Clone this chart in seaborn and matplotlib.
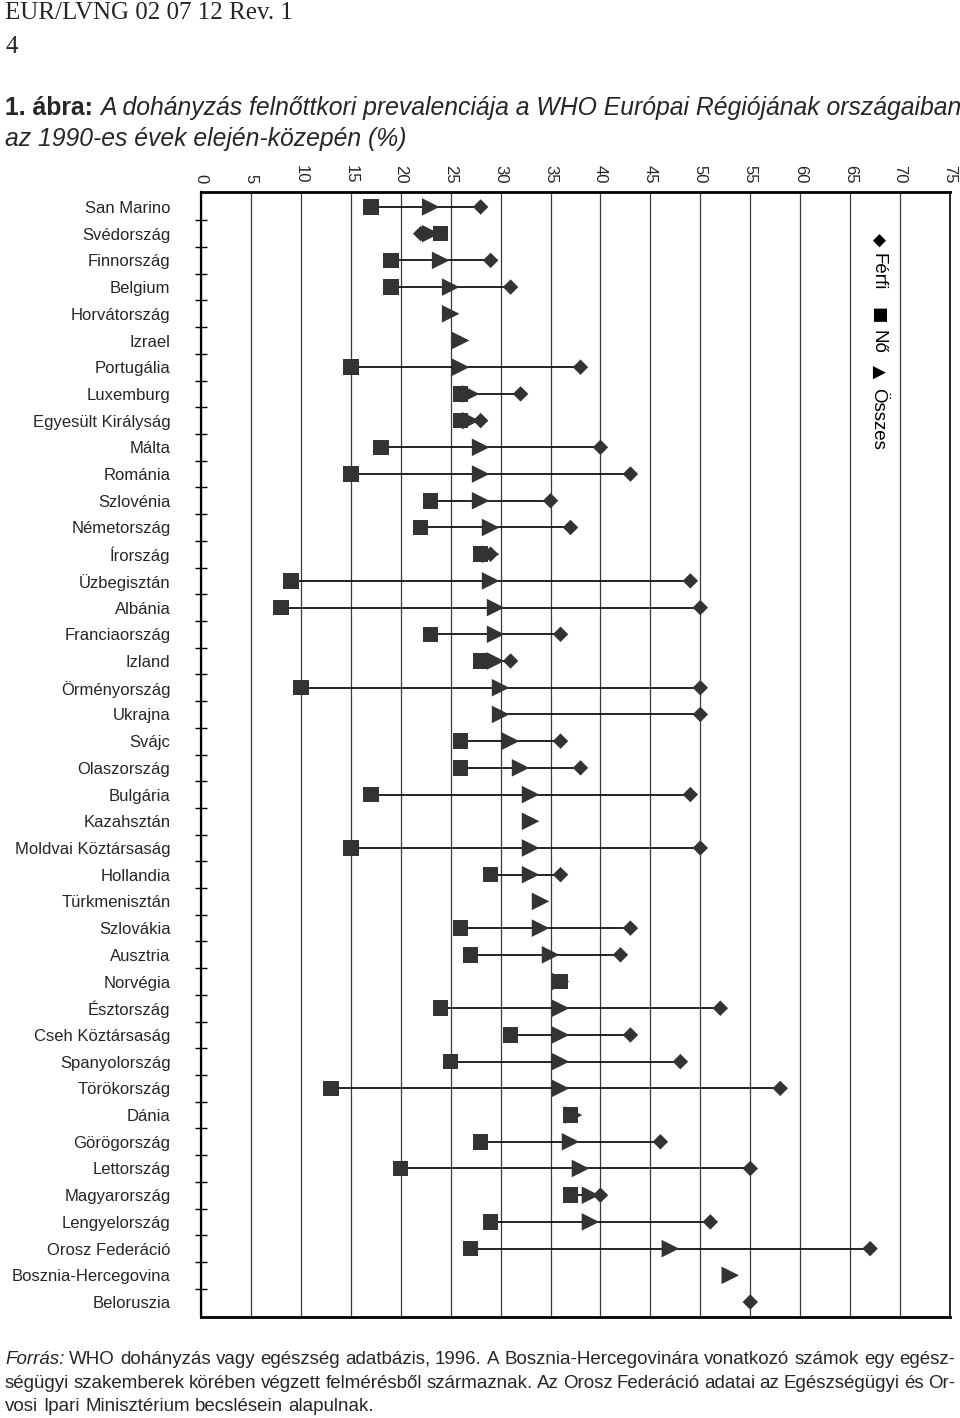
import numpy as np
import pandas as pd
import seaborn as sns
import matplotlib.pyplot as plt

############################
# 1. Data (%)
############################

orszagok = [
    "San Marino", "Svédország", "Finnország", "Belgium", "Horvátország",
    "Izrael", "Portugália", "Luxemburg", "Egyesült Királyság", "Málta",
    "Románia", "Szlovénia", "Németország", "Írország", "Üzbegisztán",
    "Albánia", "Franciaország", "Izland", "Örményország", "Ukrajna",
    "Svájc", "Olaszország", "Bulgária", "Kazahsztán", "Moldvai Köztársaság",
    "Hollandia", "Türkmenisztán", "Szlovákia", "Ausztria", "Norvégia",
    "Észtország", "Cseh Köztársaság", "Spanyolország", "Törökország", "Dánia",
    "Görögország", "Lettország", "Magyarország", "Lengyelország",
    "Orosz Federáció", "Bosznia-Hercegovina", "Beloruszia",
]

nan = np.nan
# Férfi (diamond)
ferfi = [28, 22, 29, 31, nan, nan, 38, 32, 28, 40,
         43, 35, 37, 29, 49, 50, 36, 31, 50, 50,
         36, 38, 49, nan, 50, 36, nan, 43, 42, 36,
         52, 43, 48, 58, 37, 46, 55, 40, 51, 67, nan, 55]
# Nő (square)
no = [17, 24, 19, 19, nan, nan, 15, 26, 26, 18,
      15, 23, 22, 28, 9, 8, 23, 28, 10, nan,
      26, 26, 17, nan, 15, 29, nan, 26, 27, 36,
      24, 31, 25, 13, 37, 28, 20, 37, 29, 27, nan, nan]
# Összes (triangle)
osszes = [23, 23, 24, 25, 25, 26, 26, 27, 27, 28,
          28, 28, 29, 29, 29, 29.5, 29.5, 29.5, 30, 30,
          31, 32, 33, 33, 33, 33, 34, 34, 35, 36,
          36, 36, 36, 36, 37.3, 37, 38, 39, 39, 47, 53, nan]

x_ticks = list(range(0, 76, 5))

header = "EUR/LVNG 02 07 12 Rev. 1"
page_no = "4"
title_bold = "1. ábra:"
title_1 = "A dohányzás felnőttkori prevalenciája a WHO Európai Régiójának országaiban"
title_2 = "az 1990-es évek elején-közepén (%)"
legend_items = [("◆", "Férfi"), ("■", "Nő"), ("▲", "Összes")]
forras_1 = "WHO dohányzás vagy egészség adatbázis, 1996. A Bosznia-Hercegovinára vonatkozó számok egy egész-"
forras_2 = "ségügyi szakemberek körében végzett felmérésből származnak. Az Orosz Federáció adatai az Egészségügyi és Or-"
forras_3 = "vosi Ipari Minisztérium becslésein alapulnak."

df = pd.DataFrame({"orszag": orszagok, "ferfi": ferfi, "no": no, "osszes": osszes})
df["pos"] = np.arange(len(df))
n = len(df)

############################
# 2. Figure
############################

sns.set_theme(style="white")
plt.rcParams["font.family"] = ["Liberation Sans", "DejaVu Sans"]

W, H = 960, 1418
fig = plt.figure(figsize=(W / 100, H / 100), dpi=100)
ax = fig.add_axes([201 / W, 1 - 1317 / H, (950 - 201) / W, (1317 - 192) / H])

mark = "#333333"

# connecting line from smallest to largest value in each row
lo = df[["ferfi", "no", "osszes"]].min(axis=1)
hi = df[["ferfi", "no", "osszes"]].max(axis=1)
ax.hlines(df["pos"], lo, hi, color="black", lw=1.2, zorder=2)

sns.scatterplot(data=df, x="osszes", y="pos", marker=">", s=160, color=mark,
                edgecolor="none", zorder=3, legend=False, ax=ax)
sns.scatterplot(data=df, x="ferfi", y="pos", marker="D", s=62, color=mark,
                edgecolor="none", zorder=4, legend=False, ax=ax)
sns.scatterplot(data=df, x="no", y="pos", marker="s", s=125, color=mark,
                edgecolor="none", zorder=5, legend=False, ax=ax)

ax.set_xlim(0, 75)
ax.set_ylim(n - 1 + 0.56, -0.56)
ax.set_xlabel("")
ax.set_ylabel("")

ax.set_xticks(x_ticks)
ax.set_xticklabels([str(v) for v in x_ticks])
ax.xaxis.tick_top()
ax.tick_params(axis="x", length=0, pad=6, labelsize=12, labelrotation=-90,
               top=True, labeltop=True, bottom=False, labelbottom=False)
ax.grid(axis="x", color="#3a3a3a", lw=0.9)
ax.grid(axis="y", visible=False)

ax.set_yticks(df["pos"])
ax.set_yticklabels(orszagok, fontsize=12)
ax.tick_params(axis="y", which="major", length=0, pad=22)
ax.set_yticks(np.arange(0.5, n - 1, 1), minor=True)
ax.tick_params(axis="y", which="minor", left=True, direction="inout",
               length=9, width=1, color="black")

for side, lw in [("top", 2.0), ("bottom", 2.0), ("left", 1.6), ("right", 1.2)]:
    ax.spines[side].set_visible(True)
    ax.spines[side].set_color("black")
    ax.spines[side].set_linewidth(lw)

# legend, rotated like the original: symbol + word, top to bottom
legend_y = [(233, 253), (307, 330), (365, 388)]
for (sym, word), (ys, yw) in zip(legend_items, legend_y):
    fig.text(878 / W, 1 - ys / H, sym, rotation=-90, fontsize=12.5,
             family="DejaVu Sans", ha="center", va="top", color="black")
    fig.text(878 / W, 1 - yw / H, word, rotation=-90, fontsize=13.5,
             ha="center", va="top", color="black")

############################
# 3. Texts around the chart
############################

renderer = fig.canvas.get_renderer()


def place_line(parts, y_px, size, x0=5, x1=955, justify=False):
    texts = []
    for txt, style, weight in parts:
        texts.append(fig.text(0, 1 - y_px / H, txt, fontsize=size, style=style,
                              weight=weight, va="baseline", ha="left"))
    widths = [t.get_window_extent(renderer).width for t in texts]
    if justify and len(texts) > 1:
        gap = (x1 - x0 - sum(widths)) / (len(texts) - 1)
    else:
        gap = size * 0.278 * 100 / 72
    x = x0
    for t, w in zip(texts, widths):
        t.set_x(x / W)
        x += w + gap


def words(line, style="normal"):
    return [(w, style, "normal") for w in line.split(" ")]


fig.text(5 / W, 1 - 19 / H, header, family="Liberation Serif", fontsize=18,
         va="baseline")
fig.text(5 / W, 1 - 53 / H, page_no, family="Liberation Serif", fontsize=18,
         va="baseline")

place_line([(title_bold, "normal", "bold"), (title_1, "italic", "normal")],
           115, 17.85)
place_line([(title_2, "italic", "normal")], 146, 17.85)

place_line([("Forrás:", "italic", "normal")] + words(forras_1), 1364, 13.5,
           justify=True)
place_line(words(forras_2), 1388, 13.5, justify=True)
place_line(words(forras_3), 1411, 13.5)

fig.savefig("out.png", dpi=100)
